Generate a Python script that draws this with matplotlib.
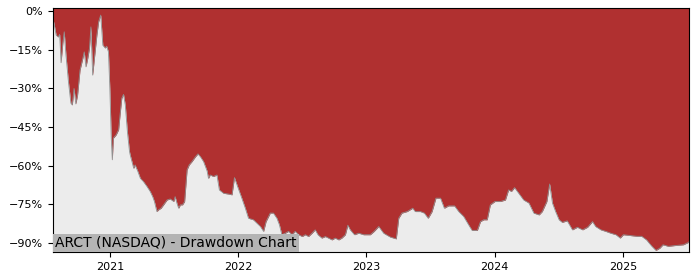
import pandas as pd
import matplotlib
matplotlib.use("Agg")
import matplotlib.pyplot as plt
import matplotlib.dates as mdates

# drawdown (date, % below running peak)
dates = [
    "2020-07-22", "2020-07-25", "2020-07-31", "2020-08-06", "2020-08-10", "2020-08-14",
    "2020-08-19", "2020-08-23", "2020-08-28", "2020-09-04", "2020-09-11", "2020-09-15",
    "2020-09-20", "2020-09-25", "2020-09-30", "2020-10-07", "2020-10-15", "2020-10-19",
    "2020-10-24", "2020-10-29", "2020-11-03", "2020-11-07", "2020-11-12", "2020-11-17",
    "2020-11-24", "2020-11-29", "2020-12-05", "2020-12-11", "2020-12-18", "2020-12-22",
    "2020-12-27", "2020-12-31", "2021-01-04", "2021-01-07", "2021-01-10", "2021-01-18",
    "2021-01-25", "2021-01-29", "2021-02-03", "2021-02-08", "2021-02-13", "2021-02-19",
    "2021-02-25", "2021-02-27", "2021-03-04", "2021-03-09", "2021-03-13", "2021-03-21",
    "2021-03-28", "2021-04-06", "2021-04-16", "2021-04-25", "2021-05-02", "2021-05-07",
    "2021-05-14", "2021-05-19", "2021-05-26", "2021-06-02", "2021-06-12", "2021-06-21",
    "2021-07-01", "2021-07-05", "2021-07-10", "2021-07-15", "2021-07-20", "2021-07-26",
    "2021-08-01", "2021-08-08", "2021-08-14", "2021-08-22", "2021-09-01", "2021-09-08",
    "2021-09-15", "2021-09-24", "2021-10-04", "2021-10-08", "2021-10-13", "2021-10-22",
    "2021-11-01", "2021-11-08", "2021-11-20", "2021-12-04", "2021-12-14", "2021-12-21",
    "2021-12-30", "2022-01-11", "2022-01-21", "2022-01-30", "2022-02-13", "2022-02-23",
    "2022-03-05", "2022-03-14", "2022-03-21", "2022-04-02", "2022-04-11", "2022-04-21",
    "2022-04-28", "2022-05-05", "2022-05-15", "2022-05-24", "2022-06-03", "2022-06-12",
    "2022-06-22", "2022-07-02", "2022-07-11", "2022-07-20", "2022-07-30", "2022-08-08",
    "2022-08-16", "2022-08-27", "2022-09-06", "2022-09-15", "2022-09-25", "2022-10-04",
    "2022-10-14", "2022-10-23", "2022-11-02", "2022-11-09", "2022-11-16", "2022-11-28",
    "2022-12-10", "2022-12-24", "2023-01-12", "2023-01-23", "2023-02-05", "2023-02-19",
    "2023-03-10", "2023-03-27", "2023-04-03", "2023-04-12", "2023-04-27", "2023-05-13",
    "2023-05-20", "2023-06-04", "2023-06-15", "2023-06-26", "2023-07-07", "2023-07-18",
    "2023-07-31", "2023-08-11", "2023-08-23", "2023-09-09", "2023-09-21", "2023-10-05",
    "2023-10-19", "2023-10-29", "2023-11-13", "2023-11-22", "2023-12-01", "2023-12-11",
    "2023-12-20", "2024-01-02", "2024-01-18", "2024-02-01", "2024-02-10", "2024-02-18",
    "2024-02-27", "2024-03-10", "2024-03-24", "2024-04-08", "2024-04-22", "2024-05-07",
    "2024-05-16", "2024-05-29", "2024-06-06", "2024-06-14", "2024-06-23", "2024-07-03",
    "2024-07-12", "2024-07-26", "2024-08-10", "2024-08-24", "2024-09-08", "2024-09-22",
    "2024-10-06", "2024-10-15", "2024-10-30", "2024-11-13", "2024-11-27", "2024-12-12",
    "2024-12-24", "2025-01-02", "2025-01-21", "2025-02-09", "2025-02-23", "2025-03-09",
    "2025-03-23", "2025-04-05", "2025-04-16", "2025-04-25", "2025-05-10", "2025-05-29",
    "2025-06-22", "2025-07-06", "2025-07-08",
]
drawdown = [
    -3.0, -4.8, -9.3, -10.0, -9.0, -20.0,
    -12.4, -8.0, -17.0, -27.4, -35.7, -36.4,
    -30.0, -36.0, -32.6, -22.9, -18.3, -15.8,
    -21.6, -18.3, -14.3, -6.1, -24.8, -18.3,
    -9.3, -4.1, -1.5, -13.2, -14.3, -13.6,
    -15.8, -30.0, -49.3, -57.7, -49.3, -48.0,
    -46.0, -40.3, -33.8, -32.3, -36.4, -46.8,
    -54.5, -55.8, -58.4, -61.0, -59.7, -62.3,
    -64.9, -66.2, -68.1, -70.0, -72.0, -73.9,
    -77.8, -77.1, -76.5, -75.2, -73.3, -72.9,
    -73.9, -72.0, -74.5, -76.5, -75.2, -75.2,
    -73.9, -61.6, -59.7, -58.4, -56.5, -55.4,
    -56.5, -58.4, -62.0, -64.9, -63.6, -64.2,
    -63.6, -69.4, -70.7, -71.0, -71.3, -64.6,
    -68.1, -72.6, -76.5, -80.4, -81.0, -82.3,
    -83.6, -85.5, -81.7, -78.4, -78.4, -80.4,
    -82.9, -86.8, -86.2, -85.5, -86.8, -85.5,
    -86.8, -87.5, -86.8, -87.5, -86.2, -84.9,
    -86.8, -88.1, -87.5, -88.1, -88.8, -88.1,
    -88.8, -88.1, -86.8, -83.1, -84.9, -86.8,
    -86.2, -86.8, -86.8, -85.5, -83.6, -86.2,
    -87.7, -88.4, -80.4, -78.4, -77.8, -76.5,
    -77.8, -77.8, -78.4, -80.4, -77.8, -72.6,
    -72.6, -76.5, -75.6, -75.6, -77.8, -79.7,
    -82.9, -85.1, -85.1, -81.7, -81.0, -81.0,
    -75.2, -73.9, -73.9, -73.3, -69.4, -70.0,
    -68.5, -70.7, -73.3, -74.5, -78.4, -79.1,
    -77.8, -73.9, -67.1, -74.5, -77.8, -81.0,
    -82.0, -81.4, -84.9, -83.9, -84.9, -83.9,
    -81.7, -83.6, -84.9, -85.5, -86.2, -86.8,
    -88.1, -86.8, -87.1, -87.4, -87.4, -88.8,
    -91.1, -92.9, -92.0, -90.7, -91.3, -91.0,
    -90.7, -89.8, -89.5,
]
ytick_vals = [0, -15, -30, -45, -60, -75, -90]
ytick_labels = ["0%", "\u221215%", "\u221230%", "\u221245%", "\u221260%", "\u221275%", "\u221290%"]
title_text = "ARCT (NASDAQ) - Drawdown Chart"

dd = pd.Series(drawdown, index=pd.to_datetime(dates))
y_lo, y_hi = -93.5, 1.2

fig = plt.figure(figsize=(7, 2.8), dpi=100)
ax = fig.add_axes([0.0757, 0.1, 0.9086, 0.871])
ax.set_facecolor("#ececec")

# red area from the curve up to the top of the axes
ax.fill_between(dd.index, dd.values, y_hi, color="#b03030", linewidth=0)
ax.plot(dd.index, dd.values, color="#909090", linewidth=0.6)

ax.set_xlim(dd.index[0], dd.index[-1])
ax.set_ylim(y_lo, y_hi)
ax.set_yticks(ytick_vals)
ax.set_yticklabels(ytick_labels)
ax.xaxis.set_major_locator(mdates.YearLocator())
ax.xaxis.set_major_formatter(mdates.DateFormatter("%Y"))
ax.tick_params(labelsize=8)

ax.annotate(title_text, xy=(0, 0), xycoords="axes fraction",
            xytext=(1.5, 1.5), textcoords="offset points",
            ha="left", va="bottom", fontsize=10,
            bbox=dict(facecolor="#b4b4b4", edgecolor="none", pad=1.5))

fig.savefig("out.png", dpi=100)
